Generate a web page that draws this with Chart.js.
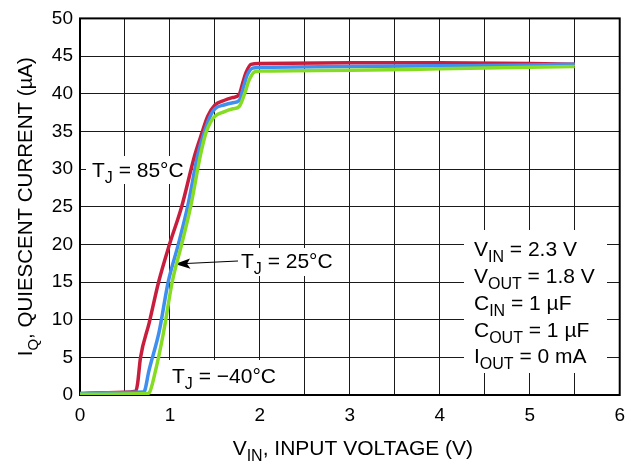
<!DOCTYPE html>
<html>
<head>
<meta charset="utf-8">
<script src="https://cdn.jsdelivr.net/npm/chart.js@4/dist/chart.umd.min.js"></script>
<style>
  html, body { margin: 0; padding: 0; background: #fff; }
  canvas { display: block; }
</style>
</head>
<body>
<canvas id="iqChart" width="634" height="468"></canvas>
<script>
// Quiescent current vs input voltage, three junction temperatures
const vin85 = [0, 0.3, 0.62, 0.64, 0.672, 0.77, 0.874, 0.995, 1.13, 1.277, 1.35, 1.42, 1.5, 1.6, 1.7, 1.77, 1.81, 1.845, 1.9, 2.0, 3.0, 4.0, 5.0, 5.5];
const iq85  = [0.2, 0.3, 0.5, 1.5, 4.9, 9.6, 15, 20, 25, 31.9, 34.6, 37.0, 38.5, 39.1, 39.5, 39.9, 41.5, 42.8, 43.9, 44.0, 44.1, 44.1, 44.0, 43.9];

const vin25 = [0, 0.3, 0.7, 0.72, 0.764, 0.88, 0.98, 1.093, 1.196, 1.31, 1.38, 1.44, 1.5, 1.6, 1.7, 1.77, 1.82, 1.86, 1.92, 2.0, 3.0, 4.0, 5.0, 5.5];
const iq25  = [0.2, 0.3, 0.4, 0.6, 3.1, 8.4, 15, 20, 25, 31.9, 34.8, 36.8, 38.0, 38.5, 38.8, 39.1, 41.0, 42.5, 43.4, 43.5, 43.6, 43.7, 43.8, 43.9];

const vinM40 = [0, 0.3, 0.75, 0.77, 0.837, 0.93, 1.025, 1.13, 1.23, 1.34, 1.4, 1.45, 1.5, 1.6, 1.7, 1.77, 1.83, 1.88, 1.94, 2.0, 3.0, 4.0, 5.0, 5.5];
const iqM40  = [0.1, 0.1, 0.2, 0.3, 3.1, 8.4, 15, 20, 25, 31.9, 34.8, 36.2, 37.0, 37.6, 38.0, 38.3, 40.0, 41.8, 42.9, 43.0, 43.1, 43.3, 43.5, 43.6];

const xMin = 0, xMax = 6, xStep = 0.5;
const yMin = 0, yMax = 50, yStep = 5;

const FONT = '"Liberation Sans", Arial, Helvetica, sans-serif';

function toPoints(xs, ys) {
    return xs.map((x, i) => ({ x: x, y: ys[i] }));
}

// draws text made of [string, isSubscript] pieces
function drawRich(ctx, parts, x, y, size, align) {
    const subSize = Math.round(size * 0.74);
    let total = 0;
    parts.forEach(p => {
        ctx.font = (p[1] ? subSize : size) + 'px ' + FONT;
        total += ctx.measureText(p[0]).width;
    });
    let cx = align === 'center' ? x - total / 2 : x;
    ctx.textAlign = 'left';
    ctx.textBaseline = 'alphabetic';
    parts.forEach(p => {
        ctx.font = (p[1] ? subSize : size) + 'px ' + FONT;
        ctx.fillText(p[0], cx, p[1] ? y + size * 0.28 : y);
        cx += ctx.measureText(p[0]).width;
    });
    return total;
}

const notes = {
    id: 'notes',
    beforeDatasetsDraw(chart) {
        const ctx = chart.ctx;
        const a = chart.chartArea;
        ctx.save();

        // white patches behind the labels
        ctx.fillStyle = '#fff';
        ctx.fillRect(86, 156, 104, 28);
        ctx.fillRect(236, 248, 102, 28);
        ctx.fillRect(166, 360, 111, a.bottom - 361);
        ctx.fillRect(464, 230, 143, 143);

        // plot frame
        ctx.strokeStyle = '#000';
        ctx.lineWidth = 2;
        ctx.strokeRect(a.left, a.top, a.right - a.left, a.bottom - a.top);

        ctx.fillStyle = '#000';
        const s = 21;
        drawRich(ctx, [['T', 0], ['J', 1], [' = 85°C', 0]], 92, 177, s);
        drawRich(ctx, [['T', 0], ['J', 1], [' = 25°C', 0]], 241, 268, s);
        drawRich(ctx, [['T', 0], ['J', 1], [' = \u221240°C', 0]], 172, 383, s);

        const px = 474;
        drawRich(ctx, [['V', 0], ['IN', 1], [' = 2.3 V', 0]], px, 256, s);
        drawRich(ctx, [['V', 0], ['OUT', 1], [' = 1.8 V', 0]], px, 283, s);
        drawRich(ctx, [['C', 0], ['IN', 1], [' = 1 \u00b5F', 0]], px, 310, s);
        drawRich(ctx, [['C', 0], ['OUT', 1], [' = 1 \u00b5F', 0]], px, 337, s);
        drawRich(ctx, [['I', 0], ['OUT', 1], [' = 0 mA', 0]], px, 363, s);

        // arrow to the 25 °C curve
        ctx.strokeStyle = '#000';
        ctx.lineWidth = 1.2;
        ctx.beginPath();
        ctx.moveTo(238, 261);
        ctx.lineTo(186, 263.5);
        ctx.stroke();
        ctx.beginPath();
        ctx.moveTo(175, 264);
        ctx.lineTo(190, 258.5);
        ctx.lineTo(187, 263.8);
        ctx.lineTo(190.5, 268.8);
        ctx.closePath();
        ctx.fill();

        // axis titles
        drawRich(ctx, [['V', 0], ['IN', 1], [', INPUT VOLTAGE (V)', 0]], (a.left + a.right) / 2 + 3, 455, 21, 'center');
        ctx.save();
        ctx.translate(32, (a.top + a.bottom) / 2);
        ctx.rotate(-Math.PI / 2);
        drawRich(ctx, [['I', 0], ['Q', 1], [', QUIESCENT CURRENT (\u00b5A)', 0]], 0, 0, 20.5, 'center');
        ctx.restore();

        ctx.restore();
    }
};

const tickFont = { family: FONT, size: 19 };

new Chart(document.getElementById('iqChart'), {
    type: 'line',
    data: {
        datasets: [
            { label: 'TJ = -40°C', data: toPoints(vinM40, iqM40), borderColor: '#86dc22' },
            { label: 'TJ = 25°C', data: toPoints(vin25, iq25), borderColor: '#3f8ff0' },
            { label: 'TJ = 85°C', data: toPoints(vin85, iq85), borderColor: '#c81e3e' }
        ].map(d => Object.assign(d, {
            borderWidth: 3.5,
            pointRadius: 0,
            fill: false,
            cubicInterpolationMode: 'monotone'
        }))
    },
    options: {
        responsive: false,
        animation: false,
        layout: { padding: { top: 12, right: 7, left: 0, bottom: 0 } },
        plugins: { legend: { display: false }, tooltip: { enabled: false } },
        scales: {
            x: {
                type: 'linear',
                min: xMin,
                max: xMax,
                afterFit: s => { s.height = 73; },
                border: { display: false },
                grid: { color: '#1a1a1a', lineWidth: 1, drawTicks: false },
                ticks: {
                    stepSize: xStep,
                    autoSkip: false,
                    maxRotation: 0,
                    padding: 9,
                    color: '#000',
                    font: tickFont,
                    callback: v => Number.isInteger(v) ? v : ''
                }
            },
            y: {
                min: yMin,
                max: yMax,
                afterFit: s => { s.width = 80; },
                border: { display: false },
                grid: { color: '#1a1a1a', lineWidth: 1, drawTicks: false },
                ticks: {
                    stepSize: yStep,
                    padding: 7,
                    color: '#000',
                    font: tickFont
                }
            }
        }
    },
    plugins: [notes]
});
</script>
</body>
</html>
